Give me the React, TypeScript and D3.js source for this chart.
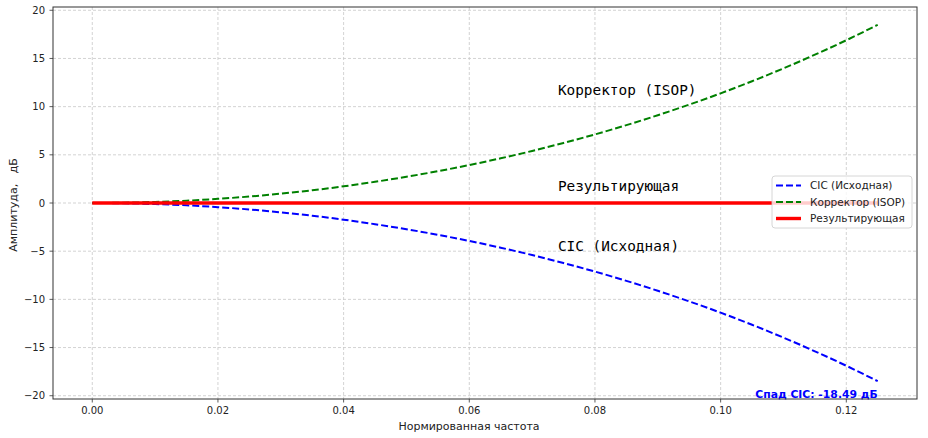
import * as d3 from 'd3';

const freq = [
  0, 0.005, 0.01, 0.015, 0.02, 0.025, 0.03, 0.035, 0.04, 0.045, 0.05, 0.055, 0.06,
  0.065, 0.07, 0.075, 0.08, 0.085, 0.09, 0.095, 0.1, 0.105, 0.11, 0.115, 0.12, 0.125,
];
const cicDb = [
  0, -0.03, -0.11, -0.24, -0.43, -0.67, -0.97, -1.32, -1.73, -2.2, -2.72, -3.3, -3.94,
  -4.64, -5.4, -6.23, -7.12, -8.08, -9.11, -10.21, -11.38, -12.64, -13.97, -15.39, -16.89, -18.49,
];
const correctorDb = [
  0, 0.03, 0.11, 0.24, 0.43, 0.67, 0.97, 1.32, 1.73, 2.2, 2.72, 3.3, 3.94,
  4.64, 5.4, 6.23, 7.12, 8.08, 9.11, 10.21, 11.38, 12.64, 13.97, 15.39, 16.89, 18.49,
];
const resultDb = [
  0, 0, 0, 0, 0, 0, 0, 0, 0, 0, 0, 0, 0,
  0, 0, 0, 0, 0, 0, 0, 0, 0, 0, 0, 0, 0,
];

const xTicks = [0, 0.02, 0.04, 0.06, 0.08, 0.1, 0.12];
const yTicks = [-20, -15, -10, -5, 0, 5, 10, 15, 20];

const seriesNames = ['CIC (Исходная)', 'Корректор (ISOP)', 'Результирующая'];
const seriesColors = ['#0000ff', '#008000', '#ff0000'];

const W = 928;
const H = 438;
const left = 53;
const right = 917;
const top = 7;
const bottom = 399;

const sans = "'DejaVu Sans', sans-serif";
const mono = "'DejaVu Sans Mono', monospace";

export default function App() {
  const x = d3.scaleLinear().domain([-0.00625, 0.13125]).range([left, right]);
  const y = d3.scaleLinear().domain([-20.34, 20.34]).range([bottom, top]);

  const line = d3
    .line<number>()
    .x((_, i) => x(freq[i]))
    .y((d) => y(d))
    .curve(d3.curveMonotoneX);

  const fmtY = (v: number) => (v < 0 ? '\u2212' + Math.abs(v) : String(v));

  const legendX = 772;
  const legendY = 176;
  const rowY = [185.5, 202, 218.5];

  return (
    <svg
      width={W}
      height={H}
      style={{ position: 'absolute', left: 0, top: 0, background: '#fff' }}
      fontFamily={sans}
    >
      <rect x={0} y={0} width={W} height={H} fill="#fff" />

      {/* grid */}
      <g stroke="#c8c8c8" strokeWidth={0.8} strokeDasharray="3,2">
        {xTicks.map((t) => (
          <line key={'gx' + t} x1={x(t)} x2={x(t)} y1={top} y2={bottom} />
        ))}
        {yTicks.map((t) => (
          <line key={'gy' + t} x1={left} x2={right} y1={y(t)} y2={y(t)} />
        ))}
      </g>

      {/* series */}
      <path d={line(cicDb) ?? ''} fill="none" stroke={seriesColors[0]} strokeWidth={2} strokeDasharray="7,3" />
      <path d={line(correctorDb) ?? ''} fill="none" stroke={seriesColors[1]} strokeWidth={2} strokeDasharray="7,3" />
      <path d={line(resultDb) ?? ''} fill="none" stroke={seriesColors[2]} strokeWidth={3.4} />

      {/* in-plot labels */}
      <g fontFamily={mono} fontSize={14.4} fill="#000">
        <text x={x(0.0741)} y={y(11.2)}>Корректор (ISOP)</text>
        <text x={x(0.0741)} y={y(1.2)}>Результирующая</text>
        <text x={x(0.0741)} y={y(-4.95)}>CIC (Исходная)</text>
      </g>

      <text
        x={x(0.125)}
        y={y(-20.2)}
        textAnchor="end"
        fontSize={10.8}
        fontWeight="bold"
        fill="#0000ff"
      >
        Спад CIC: -18.49 дБ
      </text>

      {/* axes frame */}
      <rect x={left} y={top} width={right - left} height={bottom - top} fill="none" stroke="#333" strokeWidth={1} />

      {/* x ticks */}
      <g fontSize={10} fill="#222" textAnchor="middle">
        {xTicks.map((t) => (
          <g key={'xt' + t}>
            <line x1={x(t)} x2={x(t)} y1={bottom} y2={bottom + 3.5} stroke="#333" strokeWidth={0.8} />
            <text x={x(t)} y={bottom + 15}>{t.toFixed(2)}</text>
          </g>
        ))}
      </g>

      {/* y ticks */}
      <g fontSize={10} fill="#222" textAnchor="end">
        {yTicks.map((t) => (
          <g key={'yt' + t}>
            <line x1={left - 3.5} x2={left} y1={y(t)} y2={y(t)} stroke="#333" strokeWidth={0.8} />
            <text x={left - 8} y={y(t) + 3.6}>{fmtY(t)}</text>
          </g>
        ))}
      </g>

      <text x={469} y={430} textAnchor="middle" fontSize={11} fill="#222">
        Нормированная частота
      </text>
      <text
        transform={`translate(17,${(top + bottom) / 2 + 2}) rotate(-90)`}
        textAnchor="middle"
        fontSize={11}
        fill="#222"
      >
        Амплитуда,<tspan dx={7}> дБ</tspan>
      </text>

      {/* legend */}
      <rect
        x={legendX}
        y={legendY}
        width={140}
        height={52}
        rx={3}
        fill="#fff"
        fillOpacity={0.8}
        stroke="#cccccc"
        strokeWidth={0.8}
      />
      {seriesNames.map((name, i) => (
        <g key={name}>
          <line
            x1={776}
            x2={801}
            y1={rowY[i]}
            y2={rowY[i]}
            stroke={seriesColors[i]}
            strokeWidth={i === 2 ? 3.4 : 2}
            strokeDasharray={i === 2 ? undefined : '7,3'}
          />
          <text x={810} y={rowY[i] + 3.8} fontSize={10.5} fill="#222">
            {name}
          </text>
        </g>
      ))}
    </svg>
  );
}
